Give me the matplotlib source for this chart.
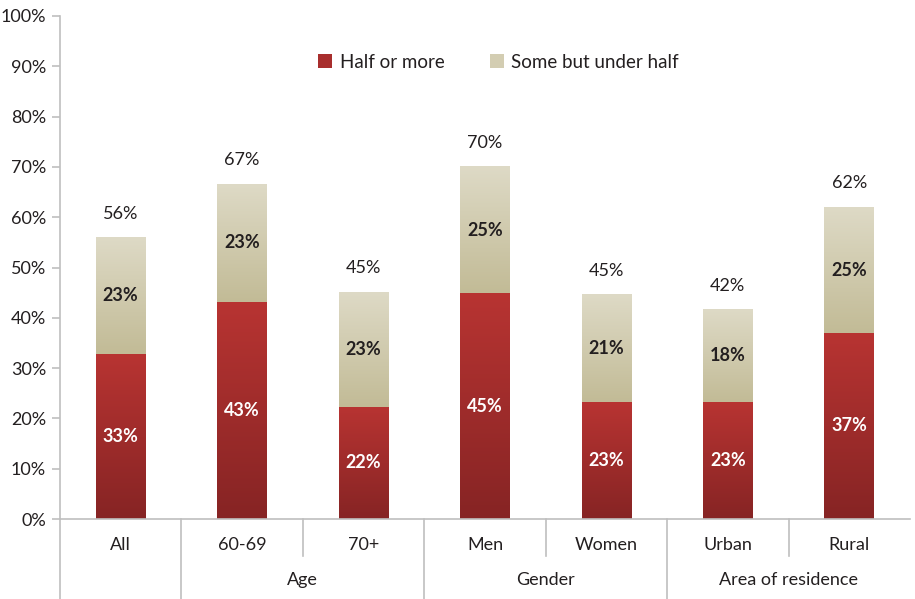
import matplotlib.pyplot as plt
import numpy as np
from matplotlib.colors import LinearSegmentedColormap
from matplotlib.patches import Patch

plt.rcParams['font.family'] = ['Lato', 'DejaVu Sans']

# Data (percent)
categories = ['All', '60-69', '70+', 'Men', 'Women', 'Urban', 'Rural']
half_or_more = [32.8, 43.2, 22.3, 44.9, 23.2, 23.3, 37.0]
some_under_half = [23.1, 23.4, 22.8, 25.1, 21.4, 18.3, 25.0]
groups = [('Age', 1, 2), ('Gender', 3, 4), ('Area of residence', 5, 6)]

red_cmap = LinearSegmentedColormap.from_list('red', ['#862424', '#B83432'])
beige_cmap = LinearSegmentedColormap.from_list('beige', ['#C2BB96', '#DEDAC6'])
text_color = '#231F20'
line_color = '#BFBFBF'

fig = plt.figure(figsize=(9.15, 5.99), dpi=100)
ax = fig.add_axes([60 / 915, 1 - 519 / 599, 850 / 915, 503 / 599])

x = np.arange(len(categories))
width = 0.41
grad = np.linspace(0, 1, 256).reshape(-1, 1)

for i in range(len(categories)):
    h = half_or_more[i]
    s = some_under_half[i]
    total = h + s
    # red segment, darker at the bottom
    ax.imshow(grad, cmap=red_cmap, origin='lower', aspect='auto',
              extent=(x[i] - width / 2, x[i] + width / 2, 0, h), zorder=2)
    # beige segment, lighter at the top
    ax.imshow(grad, cmap=beige_cmap, origin='lower', aspect='auto',
              extent=(x[i] - width / 2, x[i] + width / 2, h, total), zorder=2)
    ax.text(x[i], h / 2, f"{h:.0f}%", ha='center', va='center', fontsize=13,
            fontweight='bold', color='white', zorder=3)
    ax.text(x[i], h + s / 2, f"{s:.0f}%", ha='center', va='center', fontsize=13,
            fontweight='bold', color=text_color, zorder=3)
    ax.text(x[i], total + 3.2, f"{total:.0f}%", ha='center', va='bottom', fontsize=13,
            color=text_color, zorder=3)

ax.set_xlim(-0.5, len(categories) - 0.5)
ax.set_ylim(0, 100)
ax.set_yticks(np.arange(0, 101, 10))
ax.set_yticklabels([f"{v}%" for v in range(0, 101, 10)], fontsize=13, color=text_color)
ax.set_xticks([])

for side in ['top', 'right']:
    ax.spines[side].set_visible(False)
for side in ['left', 'bottom']:
    ax.spines[side].set_color(line_color)
    ax.spines[side].set_linewidth(1.2)
ax.tick_params(axis='y', length=6, color=line_color, width=1.2, pad=4)

# category labels
for i, c in enumerate(categories):
    ax.text(x[i], -5.2, c, ha='center', va='center', fontsize=13, color=text_color,
            clip_on=False)

# group labels and separators
for name, a, b in groups:
    ax.text((a + b) / 2, -12.1, name, ha='center', va='center', fontsize=13,
            color=text_color, clip_on=False)
    ax.plot([a - 0.5, a - 0.5], [0, -16], color=line_color, lw=1.2, clip_on=False)
    ax.plot([a + 0.5, a + 0.5], [0, -7.4], color=line_color, lw=1.2, clip_on=False)
ax.plot([-0.5, -0.5], [0, -16], color=line_color, lw=1.2, clip_on=False)

handles = [Patch(facecolor='#A82E2D', label='Half or more'),
           Patch(facecolor='#D3CDB2', label='Some but under half')]
leg = ax.legend(handles=handles, ncol=2, loc='center', bbox_to_anchor=(0.516, 0.908),
                frameon=False, fontsize=13.5, handlelength=0.75, handleheight=0.75,
                handletextpad=0.4, columnspacing=2.4)
for t in leg.get_texts():
    t.set_color(text_color)

fig.savefig('out.png', dpi=100)
